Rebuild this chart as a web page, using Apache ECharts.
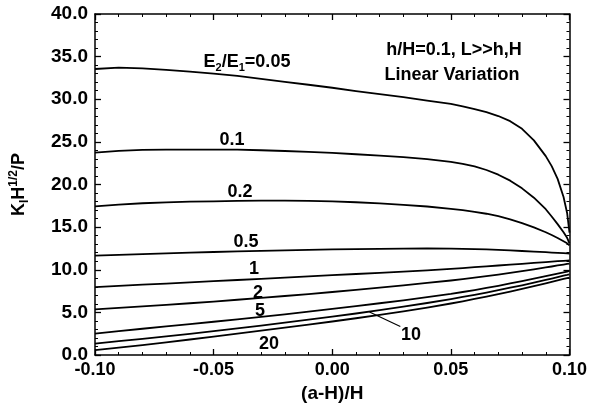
<!DOCTYPE html>
<html><head><meta charset="utf-8">
<script src="https://cdn.jsdelivr.net/npm/echarts@6/dist/echarts.min.js"></script>
<style>html,body{margin:0;padding:0;background:#fff}#c{width:590px;height:408px}</style>
</head><body><div id="c"></div>
<script>
// x positions (a-H)/H
const xs = [-0.10,-0.09,-0.08,-0.07,-0.06,-0.05,-0.04,-0.03,-0.02,-0.01,0.00,0.01,0.02,0.03,0.04,0.05,
            0.055,0.06,0.065,0.07,0.075,0.08,0.085,0.09,0.0925,0.095,0.0975,0.099,0.10];
// K_I H^(1/2) / P for each E2/E1
const e0_05 = [33.55,33.70,33.62,33.45,33.25,33.00,32.75,32.40,32.05,31.70,31.35,30.95,30.60,30.25,29.85,29.45,
               29.17,28.85,28.48,28.03,27.43,26.53,25.18,23.33,22.16,20.66,18.53,16.66,14.36];
const e0_1  = [23.74,23.95,24.05,24.10,24.10,24.10,24.08,24.02,23.93,23.82,23.70,23.55,23.38,23.20,22.98,22.65,
               22.42,22.12,21.70,21.15,20.45,19.55,18.45,17.10,16.25,15.35,14.40,13.75,13.10];
const e0_2  = [17.43,17.65,17.80,17.90,17.98,18.03,18.07,18.10,18.10,18.08,18.02,17.92,17.78,17.62,17.42,17.15,
               17.00,16.80,16.57,16.28,15.92,15.48,14.98,14.40,14.07,13.72,13.34,13.10,12.85];
const e0_5  = [11.66,11.75,11.84,11.92,12.00,12.08,12.15,12.22,12.28,12.34,12.39,12.43,12.46,12.48,12.49,12.48,
               12.46,12.43,12.39,12.33,12.27,12.20,12.13,12.06,12.02,11.98,11.94,11.91,11.88];
const e1    = [7.97,8.11,8.25,8.38,8.52,8.66,8.80,8.94,9.08,9.22,9.36,9.50,9.64,9.78,9.92,10.10,
               10.20,10.30,10.40,10.50,10.60,10.70,10.80,10.90,10.95,11.00,11.05,11.08,11.10];
const e2    = [5.35,5.52,5.70,5.88,6.07,6.27,6.48,6.70,6.92,7.15,7.39,7.64,7.90,8.17,8.45,8.74,
               8.90,9.07,9.25,9.44,9.64,9.84,10.05,10.27,10.38,10.50,10.61,10.68,10.73];
const e5    = [2.50,2.80,3.08,3.36,3.63,3.90,4.18,4.47,4.77,5.08,5.40,5.73,6.07,6.42,6.78,7.16,
               7.39,7.62,7.87,8.12,8.39,8.66,8.95,9.24,9.40,9.55,9.70,9.79,9.86];
const e10   = [1.34,1.62,1.90,2.19,2.49,2.80,3.12,3.45,3.79,4.14,4.50,4.87,5.26,5.67,6.10,6.56,
               6.81,7.06,7.33,7.60,7.89,8.18,8.49,8.80,8.96,9.13,9.30,9.39,9.46];
const e20   = [0.56,0.86,1.17,1.49,1.82,2.16,2.50,2.85,3.20,3.56,3.93,4.31,4.71,5.13,5.57,6.04,
               6.30,6.57,6.85,7.14,7.44,7.75,8.07,8.40,8.57,8.74,8.92,9.02,9.09];
const ratioNames = ['0.05','0.1','0.2','0.5','1','2','5','10','20'];
const allValues = [e0_05,e0_1,e0_2,e0_5,e1,e2,e5,e10,e20];
// leader line for label "10" (data coords)
const leaderX = [0.0157, 0.0287];
const leaderY = [5.05, 3.35];
const xTicks = [-0.10,-0.05,0.00,0.05,0.10];
const yTicks = [0,5,10,15,20,25,30,35,40];

const FF = '"Liberation Sans", Arial, Helvetica, sans-serif';
const chart = echarts.init(document.getElementById('c'), null, {renderer:'canvas'});

const series = allValues.map((vals, i) => ({
  name: ratioNames[i], type: 'line', data: xs.map((x, j) => [x, vals[j]]),
  showSymbol: false, smooth: false,
  lineStyle: {color: '#000', width: 1.8, join: 'round'}, silent: true, z: 3
}));
series.push({
  name: 'leader', type: 'line', data: leaderX.map((x, j) => [x, leaderY[j]]),
  showSymbol: false, lineStyle: {color: '#000', width: 1.2}, silent: true
});

const axisCommon = {
  axisLine: {show: true, onZero: false, lineStyle: {color: '#000', width: 1.5}},
  axisTick: {show: true, inside: true, length: 6, lineStyle: {color: '#000', width: 1.3}},
  minorTick: {show: true, splitNumber: 5, length: 3, lineStyle: {color: '#000', width: 1}},
  splitLine: {show: false}, minorSplitLine: {show: false}
};
const labelStyle = {color: '#000', fontSize: 18, fontWeight: 'bold', fontFamily: FF};

const option = {
  animation: false,
  backgroundColor: '#fff',
  grid: {left: 82, right: 18.5, top: 14, bottom: 51.5, containLabel: false},
  xAxis: [
    Object.assign({type: 'value', min: xTicks[0], max: xTicks[xTicks.length-1], interval: 0.05, position: 'bottom',
      name: '(a-H)/H', nameLocation: 'middle', nameGap: 29,
      nameTextStyle: Object.assign({}, labelStyle, {fontSize: 19}),
      axisLabel: Object.assign({margin: 6, formatter: v => v.toFixed(2)}, labelStyle)}, axisCommon),
    Object.assign({type: 'value', min: xTicks[0], max: xTicks[xTicks.length-1], interval: 0.05, position: 'top',
      axisLabel: {show: false}}, axisCommon)
  ],
  yAxis: [
    Object.assign({type: 'value', min: yTicks[0], max: yTicks[yTicks.length-1], interval: 5, position: 'left',
      name: 'K{sub|I}H{sup|1/2}/P', nameLocation: 'middle', nameGap: 64, nameRotate: 90,
      nameTextStyle: Object.assign({}, labelStyle, {fontSize: 18, lineHeight: 23, rich: {
        sub: {fontSize: 12, fontWeight: 'bold', fontFamily: FF, color: '#000', verticalAlign: 'bottom', lineHeight: 12},
        sup: {fontSize: 12, fontWeight: 'bold', fontFamily: FF, color: '#000', verticalAlign: 'top', lineHeight: 12}
      }}),
      axisLabel: Object.assign({margin: 7, formatter: v => v.toFixed(1)}, labelStyle, {fontSize: 19})}, axisCommon),
    Object.assign({type: 'value', min: yTicks[0], max: yTicks[yTicks.length-1], interval: 5, position: 'right',
      axisLabel: {show: false}}, axisCommon)
  ],
  series: series
};
chart.setOption(option);

const subStyle = {fontSize: 11, fontWeight: 'bold', fontFamily: FF, fill: '#000', verticalAlign: 'bottom', lineHeight: 11};
function txt(x, y, text, extra) {
  return {type: 'text', x: x, y: y, silent: true, z: 10,
    style: Object.assign({text: text, fill: '#000', fontSize: 18, fontWeight: 'bold', fontFamily: FF,
      align: 'center', verticalAlign: 'middle'}, extra || {})};
}
chart.setOption({graphic: [
  txt(247, 62, 'E{sub|2}/E{sub|1}=0.05', {lineHeight: 22, rich: {sub: subStyle}}),
  txt(232, 140, '0.1'),
  txt(240, 192, '0.2'),
  txt(246, 242, '0.5'),
  txt(254, 269, '1'),
  txt(258, 293, '2'),
  txt(260, 311, '5'),
  txt(411, 335, '10'),
  txt(269, 344, '20'),
  txt(454, 50, 'h/H=0.1, L>>h,H'),
  txt(452, 75, 'Linear Variation')
]});
</script></body></html>
